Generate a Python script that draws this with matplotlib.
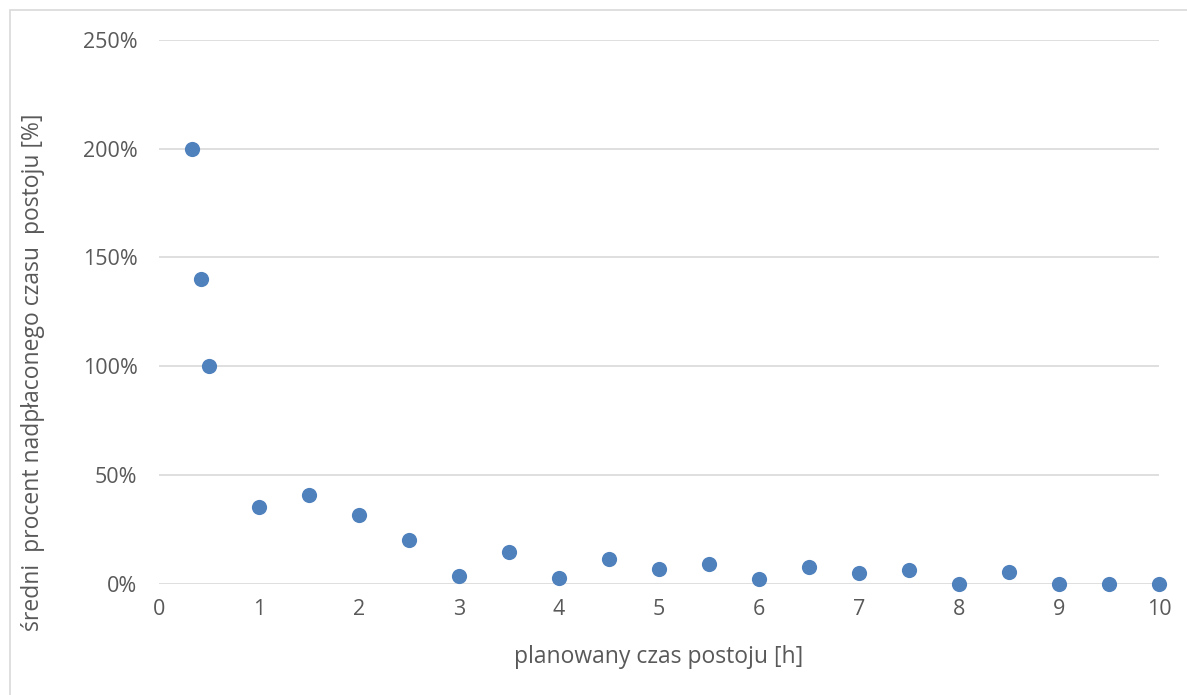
import matplotlib.pyplot as plt
from matplotlib.patches import Rectangle
from matplotlib.ticker import FuncFormatter

plt.rcParams['font.family'] = ['Open Sans', 'DejaVu Sans']

# planned parking time [h] and mean overpaid share of that time [%]
planned_hours = [1/3, 5/12, 0.5, 1, 1.5, 2, 2.5, 3, 3.5, 4, 4.5, 5, 5.5,
                 6, 6.5, 7, 7.5, 8, 8.5, 9, 9.5, 10]
overpaid_pct = [200, 140, 100, 35.4, 40.8, 31.4, 20.1, 3.5, 14.3, 2.4, 11.2, 6.6, 9.0,
                2.0, 7.4, 4.8, 6.3, 0, 5.5, 0, 0, 0]

x_ticks = list(range(0, 11))
y_ticks = [0, 50, 100, 150, 200, 250]

text_color = '#595959'
grid_color = '#D9D9D9'

fig = plt.figure(figsize=(11.87, 6.95), dpi=100)
ax = fig.add_axes([159/1187, 1 - 583.5/695, 1000/1187, 543.5/695])

# light frame around the chart area
fig.patches.append(Rectangle((10/1187, -0.1), 1.2, (695 - 10)/695 + 0.1,
                             transform=fig.transFigure, fill=False,
                             edgecolor=grid_color, linewidth=1.2))

ax.scatter(planned_hours, overpaid_pct, s=120, color='#4F81BD', zorder=3,
           linewidths=0, clip_on=False)

ax.set_xlim(0, 10)
ax.set_ylim(0, 250)
ax.set_xticks(x_ticks)
ax.set_yticks(y_ticks)
ax.yaxis.set_major_formatter(FuncFormatter(lambda v, _: f'{v:.0f}%'))

ax.grid(axis='y', color=grid_color, linewidth=1.2)
ax.set_axisbelow(True)
for side in ax.spines.values():
    side.set_visible(False)
ax.tick_params(length=0, labelsize=15.5, colors=text_color)
ax.tick_params(axis='y', pad=15.5)
ax.tick_params(axis='x', pad=11)

ax.set_xlabel('planowany czas postoju [h]', fontsize=16.5, color=text_color, va='center')
ax.xaxis.set_label_coords(0.5, -0.135)
ax.set_ylabel('średni  procent nadpłaconego czasu  postoju [%]', fontsize=16.5,
              color=text_color, va='center')
ax.yaxis.set_label_coords(-0.126, 0.389)

fig.savefig('out.png', dpi=100, facecolor='white')
